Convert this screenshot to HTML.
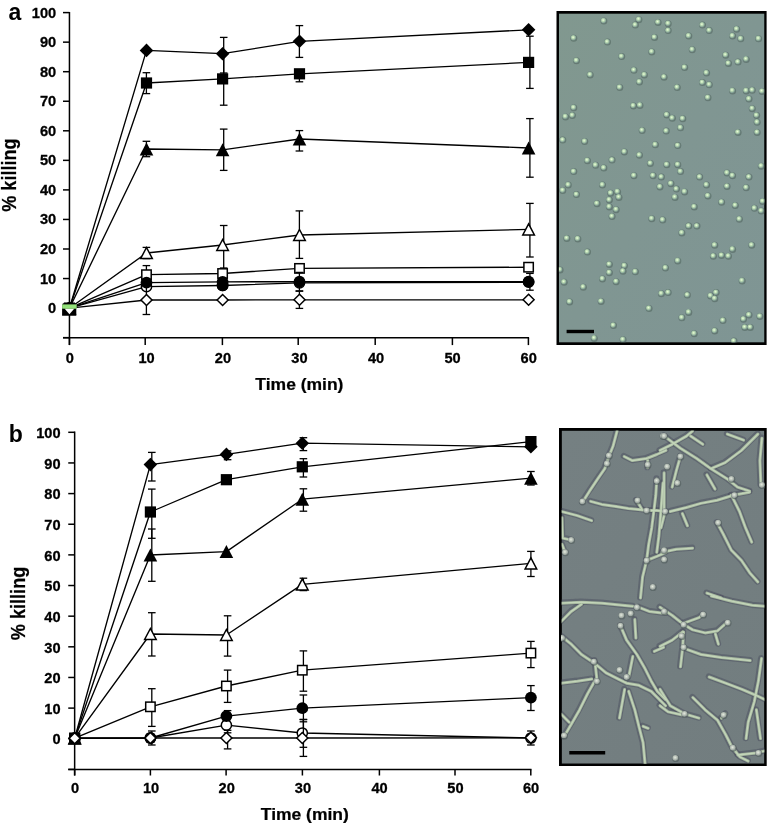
<!DOCTYPE html>
<html><head><meta charset="utf-8"><title>Figure</title>
<style>
html,body{margin:0;padding:0;background:#fff;}
body{width:767px;height:824px;overflow:hidden;}
svg{display:block;}
text{opacity:0.999;}
text{font-family:"Liberation Sans",sans-serif;font-weight:bold;}
</style></head>
<body>
<svg width="767" height="824" viewBox="0 0 767 824">
<rect width="767" height="824" fill="#fff"/>
<defs><radialGradient id="cell" cx="0.45" cy="0.42" r="0.6"><stop offset="0" stop-color="#eefbe2"/><stop offset="0.35" stop-color="#c0e0b4"/><stop offset="0.75" stop-color="#8aa89a"/><stop offset="1" stop-color="#7a968e" stop-opacity="0.5"/></radialGradient><radialGradient id="cellb" cx="0.45" cy="0.42" r="0.6"><stop offset="0" stop-color="#e4eadf"/><stop offset="0.4" stop-color="#c2cac0"/><stop offset="0.8" stop-color="#98a29d"/><stop offset="1" stop-color="#7a8582" stop-opacity="0.4"/></radialGradient><linearGradient id="bga" x1="0" y1="0" x2="1" y2="1"><stop offset="0" stop-color="#81988f"/><stop offset="0.5" stop-color="#809692"/><stop offset="1" stop-color="#7f9594"/></linearGradient><linearGradient id="bgb" x1="0" y1="0" x2="1" y2="1"><stop offset="0" stop-color="#758082"/><stop offset="1" stop-color="#727d7f"/></linearGradient><filter id="bl" x="-5%" y="-5%" width="110%" height="110%"><feGaussianBlur stdDeviation="0.55"/></filter><clipPath id="ca"><rect x="558.9" y="13.4" width="205.6" height="329.2"/></clipPath><clipPath id="cb"><rect x="561.6" y="430.6" width="202.8" height="333.1"/></clipPath></defs><rect x="556.5" y="11.0" width="210.1" height="334" fill="#000"/><g clip-path="url(#ca)"><rect x="558.9" y="13.4" width="205.6" height="329.2" fill="url(#bga)"/><g filter="url(#bl)"><circle cx="603.9" cy="21" r="3.5" fill="#52665f" opacity="0.6"/><circle cx="603.5" cy="20.6" r="2.8" fill="url(#cell)"/><circle cx="638.9" cy="19.7" r="3.5" fill="#52665f" opacity="0.6"/><circle cx="638.6" cy="19.2" r="2.8" fill="url(#cell)"/><circle cx="635.4" cy="25.1" r="3.5" fill="#52665f" opacity="0.6"/><circle cx="635" cy="24.7" r="2.8" fill="url(#cell)"/><circle cx="658.1" cy="22.4" r="3.5" fill="#52665f" opacity="0.6"/><circle cx="657.8" cy="22" r="2.8" fill="url(#cell)"/><circle cx="668.2" cy="23.8" r="3.5" fill="#52665f" opacity="0.6"/><circle cx="667.9" cy="23.3" r="2.8" fill="url(#cell)"/><circle cx="668.2" cy="30.6" r="3.5" fill="#52665f" opacity="0.6"/><circle cx="667.9" cy="30.2" r="2.8" fill="url(#cell)"/><circle cx="702.5" cy="25.1" r="3.5" fill="#52665f" opacity="0.6"/><circle cx="702.1" cy="24.7" r="2.8" fill="url(#cell)"/><circle cx="709.3" cy="30.6" r="3.5" fill="#52665f" opacity="0.6"/><circle cx="709" cy="30.2" r="2.8" fill="url(#cell)"/><circle cx="736.7" cy="29.2" r="3.5" fill="#52665f" opacity="0.6"/><circle cx="736.4" cy="28.8" r="2.8" fill="url(#cell)"/><circle cx="732.6" cy="36.1" r="3.5" fill="#52665f" opacity="0.6"/><circle cx="732.2" cy="35.6" r="2.8" fill="url(#cell)"/><circle cx="740.8" cy="38.8" r="3.5" fill="#52665f" opacity="0.6"/><circle cx="740.5" cy="38.4" r="2.8" fill="url(#cell)"/><circle cx="758.6" cy="38.8" r="3.5" fill="#52665f" opacity="0.6"/><circle cx="758.3" cy="38.4" r="2.8" fill="url(#cell)"/><circle cx="573.8" cy="38.3" r="3.5" fill="#52665f" opacity="0.6"/><circle cx="573.4" cy="37.8" r="2.8" fill="url(#cell)"/><circle cx="607.5" cy="42.1" r="3.5" fill="#52665f" opacity="0.6"/><circle cx="607.1" cy="41.7" r="2.8" fill="url(#cell)"/><circle cx="654.6" cy="37.5" r="3.5" fill="#52665f" opacity="0.6"/><circle cx="654.2" cy="37" r="2.8" fill="url(#cell)"/><circle cx="688.8" cy="36.1" r="3.5" fill="#52665f" opacity="0.6"/><circle cx="688.4" cy="35.6" r="2.8" fill="url(#cell)"/><circle cx="651.8" cy="52" r="3.5" fill="#52665f" opacity="0.6"/><circle cx="651.5" cy="51.5" r="2.8" fill="url(#cell)"/><circle cx="692.3" cy="49.8" r="3.5" fill="#52665f" opacity="0.6"/><circle cx="692" cy="49.3" r="2.8" fill="url(#cell)"/><circle cx="621.7" cy="56.6" r="3.5" fill="#52665f" opacity="0.6"/><circle cx="621.3" cy="56.2" r="2.8" fill="url(#cell)"/><circle cx="725.8" cy="55.3" r="3.5" fill="#52665f" opacity="0.6"/><circle cx="725.4" cy="54.8" r="2.8" fill="url(#cell)"/><circle cx="728.5" cy="63.5" r="3.5" fill="#52665f" opacity="0.6"/><circle cx="728.1" cy="63" r="2.8" fill="url(#cell)"/><circle cx="738.1" cy="62.1" r="3.5" fill="#52665f" opacity="0.6"/><circle cx="737.7" cy="61.7" r="2.8" fill="url(#cell)"/><circle cx="746.3" cy="59.4" r="3.5" fill="#52665f" opacity="0.6"/><circle cx="745.9" cy="58.9" r="2.8" fill="url(#cell)"/><circle cx="576.5" cy="60.7" r="3.5" fill="#52665f" opacity="0.6"/><circle cx="576.2" cy="60.3" r="2.8" fill="url(#cell)"/><circle cx="590.2" cy="75" r="3.5" fill="#52665f" opacity="0.6"/><circle cx="589.9" cy="74.5" r="2.8" fill="url(#cell)"/><circle cx="634" cy="70.3" r="3.5" fill="#52665f" opacity="0.6"/><circle cx="633.7" cy="69.9" r="2.8" fill="url(#cell)"/><circle cx="644.4" cy="75" r="3.5" fill="#52665f" opacity="0.6"/><circle cx="644.1" cy="74.5" r="2.8" fill="url(#cell)"/><circle cx="639.5" cy="82.1" r="3.5" fill="#52665f" opacity="0.6"/><circle cx="639.1" cy="81.6" r="2.8" fill="url(#cell)"/><circle cx="664.1" cy="77.2" r="3.5" fill="#52665f" opacity="0.6"/><circle cx="663.8" cy="76.7" r="2.8" fill="url(#cell)"/><circle cx="684.7" cy="67.6" r="3.5" fill="#52665f" opacity="0.6"/><circle cx="684.3" cy="67.1" r="2.8" fill="url(#cell)"/><circle cx="706.6" cy="73.1" r="3.5" fill="#52665f" opacity="0.6"/><circle cx="706.2" cy="72.6" r="2.8" fill="url(#cell)"/><circle cx="702.5" cy="82.6" r="3.5" fill="#52665f" opacity="0.6"/><circle cx="702.1" cy="82.2" r="2.8" fill="url(#cell)"/><circle cx="709.3" cy="84.8" r="3.5" fill="#52665f" opacity="0.6"/><circle cx="709" cy="84.4" r="2.8" fill="url(#cell)"/><circle cx="619.8" cy="87.6" r="3.5" fill="#52665f" opacity="0.6"/><circle cx="619.4" cy="87.1" r="2.8" fill="url(#cell)"/><circle cx="677.3" cy="87.6" r="3.5" fill="#52665f" opacity="0.6"/><circle cx="676.9" cy="87.1" r="2.8" fill="url(#cell)"/><circle cx="732.6" cy="90.9" r="3.5" fill="#52665f" opacity="0.6"/><circle cx="732.2" cy="90.4" r="2.8" fill="url(#cell)"/><circle cx="746.3" cy="90.9" r="3.5" fill="#52665f" opacity="0.6"/><circle cx="745.9" cy="90.4" r="2.8" fill="url(#cell)"/><circle cx="752.3" cy="90.3" r="3.5" fill="#52665f" opacity="0.6"/><circle cx="752" cy="89.9" r="2.8" fill="url(#cell)"/><circle cx="762.2" cy="91.4" r="3.5" fill="#52665f" opacity="0.6"/><circle cx="761.8" cy="91" r="2.8" fill="url(#cell)"/><circle cx="708" cy="97.7" r="3.5" fill="#52665f" opacity="0.6"/><circle cx="707.6" cy="97.3" r="2.8" fill="url(#cell)"/><circle cx="749" cy="99.1" r="3.5" fill="#52665f" opacity="0.6"/><circle cx="748.7" cy="98.6" r="2.8" fill="url(#cell)"/><circle cx="573.8" cy="107.8" r="3.5" fill="#52665f" opacity="0.6"/><circle cx="573.4" cy="107.4" r="2.8" fill="url(#cell)"/><circle cx="565.6" cy="116.9" r="3.5" fill="#52665f" opacity="0.6"/><circle cx="565.2" cy="116.4" r="2.8" fill="url(#cell)"/><circle cx="572.4" cy="115.5" r="3.5" fill="#52665f" opacity="0.6"/><circle cx="572.1" cy="115.1" r="2.8" fill="url(#cell)"/><circle cx="633.5" cy="105.9" r="3.5" fill="#52665f" opacity="0.6"/><circle cx="633.1" cy="105.5" r="2.8" fill="url(#cell)"/><circle cx="640" cy="105.4" r="3.5" fill="#52665f" opacity="0.6"/><circle cx="639.7" cy="104.9" r="2.8" fill="url(#cell)"/><circle cx="666.9" cy="115" r="3.5" fill="#52665f" opacity="0.6"/><circle cx="666.5" cy="114.5" r="2.8" fill="url(#cell)"/><circle cx="672.4" cy="118.2" r="3.5" fill="#52665f" opacity="0.6"/><circle cx="672" cy="117.8" r="2.8" fill="url(#cell)"/><circle cx="682.8" cy="118.8" r="3.5" fill="#52665f" opacity="0.6"/><circle cx="682.4" cy="118.3" r="2.8" fill="url(#cell)"/><circle cx="680.6" cy="127.8" r="3.5" fill="#52665f" opacity="0.6"/><circle cx="680.2" cy="127.4" r="2.8" fill="url(#cell)"/><circle cx="752.3" cy="108.7" r="3.5" fill="#52665f" opacity="0.6"/><circle cx="752" cy="108.2" r="2.8" fill="url(#cell)"/><circle cx="756.7" cy="115.5" r="3.5" fill="#52665f" opacity="0.6"/><circle cx="756.3" cy="115.1" r="2.8" fill="url(#cell)"/><circle cx="757.2" cy="122.3" r="3.5" fill="#52665f" opacity="0.6"/><circle cx="756.9" cy="121.9" r="2.8" fill="url(#cell)"/><circle cx="642.2" cy="130.6" r="3.5" fill="#52665f" opacity="0.6"/><circle cx="641.9" cy="130.1" r="2.8" fill="url(#cell)"/><circle cx="666.3" cy="131.1" r="3.5" fill="#52665f" opacity="0.6"/><circle cx="666" cy="130.7" r="2.8" fill="url(#cell)"/><circle cx="738.1" cy="132.5" r="3.5" fill="#52665f" opacity="0.6"/><circle cx="737.7" cy="132" r="2.8" fill="url(#cell)"/><circle cx="757.2" cy="132.5" r="3.5" fill="#52665f" opacity="0.6"/><circle cx="756.9" cy="132" r="2.8" fill="url(#cell)"/><circle cx="562.8" cy="140.1" r="3.5" fill="#52665f" opacity="0.6"/><circle cx="562.5" cy="139.7" r="2.8" fill="url(#cell)"/><circle cx="584.7" cy="141.5" r="3.5" fill="#52665f" opacity="0.6"/><circle cx="584.4" cy="141.1" r="2.8" fill="url(#cell)"/><circle cx="655.4" cy="144.8" r="3.5" fill="#52665f" opacity="0.6"/><circle cx="655" cy="144.4" r="2.8" fill="url(#cell)"/><circle cx="677.8" cy="145.6" r="3.5" fill="#52665f" opacity="0.6"/><circle cx="677.5" cy="145.2" r="2.8" fill="url(#cell)"/><circle cx="624.4" cy="151.9" r="3.5" fill="#52665f" opacity="0.6"/><circle cx="624.1" cy="151.5" r="2.8" fill="url(#cell)"/><circle cx="639.5" cy="155.2" r="3.5" fill="#52665f" opacity="0.6"/><circle cx="639.1" cy="154.8" r="2.8" fill="url(#cell)"/><circle cx="587.5" cy="160.7" r="3.5" fill="#52665f" opacity="0.6"/><circle cx="587.1" cy="160.2" r="2.8" fill="url(#cell)"/><circle cx="595.7" cy="165.3" r="3.5" fill="#52665f" opacity="0.6"/><circle cx="595.3" cy="164.9" r="2.8" fill="url(#cell)"/><circle cx="603.9" cy="168.1" r="3.5" fill="#52665f" opacity="0.6"/><circle cx="603.5" cy="167.6" r="2.8" fill="url(#cell)"/><circle cx="612.1" cy="160.1" r="3.5" fill="#52665f" opacity="0.6"/><circle cx="611.8" cy="159.7" r="2.8" fill="url(#cell)"/><circle cx="650.4" cy="163.4" r="3.5" fill="#52665f" opacity="0.6"/><circle cx="650.1" cy="163" r="2.8" fill="url(#cell)"/><circle cx="666.9" cy="164.8" r="3.5" fill="#52665f" opacity="0.6"/><circle cx="666.5" cy="164.3" r="2.8" fill="url(#cell)"/><circle cx="677.8" cy="164.8" r="3.5" fill="#52665f" opacity="0.6"/><circle cx="677.5" cy="164.3" r="2.8" fill="url(#cell)"/><circle cx="573.8" cy="171.6" r="3.5" fill="#52665f" opacity="0.6"/><circle cx="573.4" cy="171.2" r="2.8" fill="url(#cell)"/><circle cx="634" cy="175.7" r="3.5" fill="#52665f" opacity="0.6"/><circle cx="633.7" cy="175.3" r="2.8" fill="url(#cell)"/><circle cx="653.2" cy="175.7" r="3.5" fill="#52665f" opacity="0.6"/><circle cx="652.8" cy="175.3" r="2.8" fill="url(#cell)"/><circle cx="661.4" cy="177.1" r="3.5" fill="#52665f" opacity="0.6"/><circle cx="661.1" cy="176.7" r="2.8" fill="url(#cell)"/><circle cx="727.1" cy="173" r="3.5" fill="#52665f" opacity="0.6"/><circle cx="726.8" cy="172.6" r="2.8" fill="url(#cell)"/><circle cx="732.6" cy="175.7" r="3.5" fill="#52665f" opacity="0.6"/><circle cx="732.2" cy="175.3" r="2.8" fill="url(#cell)"/><circle cx="749" cy="177.1" r="3.5" fill="#52665f" opacity="0.6"/><circle cx="748.7" cy="176.7" r="2.8" fill="url(#cell)"/><circle cx="761.3" cy="166.2" r="3.5" fill="#52665f" opacity="0.6"/><circle cx="761" cy="165.7" r="2.8" fill="url(#cell)"/><circle cx="680.6" cy="171.6" r="3.5" fill="#52665f" opacity="0.6"/><circle cx="680.2" cy="171.2" r="2.8" fill="url(#cell)"/><circle cx="699.7" cy="177.1" r="3.5" fill="#52665f" opacity="0.6"/><circle cx="699.4" cy="176.7" r="2.8" fill="url(#cell)"/><circle cx="568.3" cy="185" r="3.5" fill="#52665f" opacity="0.6"/><circle cx="568" cy="184.6" r="2.8" fill="url(#cell)"/><circle cx="562.8" cy="190.5" r="3.5" fill="#52665f" opacity="0.6"/><circle cx="562.5" cy="190.1" r="2.8" fill="url(#cell)"/><circle cx="602.5" cy="185" r="3.5" fill="#52665f" opacity="0.6"/><circle cx="602.2" cy="184.6" r="2.8" fill="url(#cell)"/><circle cx="576.5" cy="194.6" r="3.5" fill="#52665f" opacity="0.6"/><circle cx="576.2" cy="194.2" r="2.8" fill="url(#cell)"/><circle cx="610.7" cy="193.2" r="3.5" fill="#52665f" opacity="0.6"/><circle cx="610.4" cy="192.8" r="2.8" fill="url(#cell)"/><circle cx="617.6" cy="191.9" r="3.5" fill="#52665f" opacity="0.6"/><circle cx="617.2" cy="191.4" r="2.8" fill="url(#cell)"/><circle cx="609.4" cy="200.1" r="3.5" fill="#52665f" opacity="0.6"/><circle cx="609" cy="199.6" r="2.8" fill="url(#cell)"/><circle cx="619" cy="197.4" r="3.5" fill="#52665f" opacity="0.6"/><circle cx="618.6" cy="196.9" r="2.8" fill="url(#cell)"/><circle cx="609.4" cy="206.9" r="3.5" fill="#52665f" opacity="0.6"/><circle cx="609" cy="206.5" r="2.8" fill="url(#cell)"/><circle cx="616.2" cy="209.7" r="3.5" fill="#52665f" opacity="0.6"/><circle cx="615.9" cy="209.2" r="2.8" fill="url(#cell)"/><circle cx="612.1" cy="216.5" r="3.5" fill="#52665f" opacity="0.6"/><circle cx="611.8" cy="216.1" r="2.8" fill="url(#cell)"/><circle cx="597.1" cy="203.7" r="3.5" fill="#52665f" opacity="0.6"/><circle cx="596.7" cy="203.2" r="2.8" fill="url(#cell)"/><circle cx="660" cy="187" r="3.5" fill="#52665f" opacity="0.6"/><circle cx="659.7" cy="186.5" r="2.8" fill="url(#cell)"/><circle cx="671" cy="183.7" r="3.5" fill="#52665f" opacity="0.6"/><circle cx="670.6" cy="183.2" r="2.8" fill="url(#cell)"/><circle cx="676.5" cy="189.1" r="3.5" fill="#52665f" opacity="0.6"/><circle cx="676.1" cy="188.7" r="2.8" fill="url(#cell)"/><circle cx="684.7" cy="191.9" r="3.5" fill="#52665f" opacity="0.6"/><circle cx="684.3" cy="191.4" r="2.8" fill="url(#cell)"/><circle cx="675.1" cy="197.4" r="3.5" fill="#52665f" opacity="0.6"/><circle cx="674.7" cy="196.9" r="2.8" fill="url(#cell)"/><circle cx="651.8" cy="218.7" r="3.5" fill="#52665f" opacity="0.6"/><circle cx="651.5" cy="218.3" r="2.8" fill="url(#cell)"/><circle cx="662.8" cy="220.1" r="3.5" fill="#52665f" opacity="0.6"/><circle cx="662.4" cy="219.6" r="2.8" fill="url(#cell)"/><circle cx="706.6" cy="185" r="3.5" fill="#52665f" opacity="0.6"/><circle cx="706.2" cy="184.6" r="2.8" fill="url(#cell)"/><circle cx="727.1" cy="186.4" r="3.5" fill="#52665f" opacity="0.6"/><circle cx="726.8" cy="186" r="2.8" fill="url(#cell)"/><circle cx="746.3" cy="187.8" r="3.5" fill="#52665f" opacity="0.6"/><circle cx="745.9" cy="187.3" r="2.8" fill="url(#cell)"/><circle cx="708" cy="196" r="3.5" fill="#52665f" opacity="0.6"/><circle cx="707.6" cy="195.5" r="2.8" fill="url(#cell)"/><circle cx="721.6" cy="202.3" r="3.5" fill="#52665f" opacity="0.6"/><circle cx="721.3" cy="201.8" r="2.8" fill="url(#cell)"/><circle cx="735.3" cy="205.6" r="3.5" fill="#52665f" opacity="0.6"/><circle cx="735" cy="205.1" r="2.8" fill="url(#cell)"/><circle cx="754.5" cy="208.3" r="3.5" fill="#52665f" opacity="0.6"/><circle cx="754.2" cy="207.9" r="2.8" fill="url(#cell)"/><circle cx="761.3" cy="211" r="3.5" fill="#52665f" opacity="0.6"/><circle cx="761" cy="210.6" r="2.8" fill="url(#cell)"/><circle cx="762.7" cy="201.5" r="3.5" fill="#52665f" opacity="0.6"/><circle cx="762.4" cy="201" r="2.8" fill="url(#cell)"/><circle cx="694.3" cy="206.9" r="3.5" fill="#52665f" opacity="0.6"/><circle cx="693.9" cy="206.5" r="2.8" fill="url(#cell)"/><circle cx="739.4" cy="219.3" r="3.5" fill="#52665f" opacity="0.6"/><circle cx="739.1" cy="218.8" r="2.8" fill="url(#cell)"/><circle cx="688.8" cy="226.1" r="3.5" fill="#52665f" opacity="0.6"/><circle cx="688.4" cy="225.7" r="2.8" fill="url(#cell)"/><circle cx="697" cy="226.1" r="3.5" fill="#52665f" opacity="0.6"/><circle cx="696.6" cy="225.7" r="2.8" fill="url(#cell)"/><circle cx="681.9" cy="233" r="3.5" fill="#52665f" opacity="0.6"/><circle cx="681.6" cy="232.5" r="2.8" fill="url(#cell)"/><circle cx="566.9" cy="238.4" r="3.5" fill="#52665f" opacity="0.6"/><circle cx="566.6" cy="238" r="2.8" fill="url(#cell)"/><circle cx="577.9" cy="239" r="3.5" fill="#52665f" opacity="0.6"/><circle cx="577.5" cy="238.5" r="2.8" fill="url(#cell)"/><circle cx="587.5" cy="252.1" r="3.5" fill="#52665f" opacity="0.6"/><circle cx="587.1" cy="251.7" r="2.8" fill="url(#cell)"/><circle cx="714.8" cy="245.3" r="3.5" fill="#52665f" opacity="0.6"/><circle cx="714.4" cy="244.8" r="2.8" fill="url(#cell)"/><circle cx="732.6" cy="249.4" r="3.5" fill="#52665f" opacity="0.6"/><circle cx="732.2" cy="248.9" r="2.8" fill="url(#cell)"/><circle cx="713.4" cy="256.2" r="3.5" fill="#52665f" opacity="0.6"/><circle cx="713.1" cy="255.8" r="2.8" fill="url(#cell)"/><circle cx="721.6" cy="255.4" r="3.5" fill="#52665f" opacity="0.6"/><circle cx="721.3" cy="255" r="2.8" fill="url(#cell)"/><circle cx="728.5" cy="256.2" r="3.5" fill="#52665f" opacity="0.6"/><circle cx="728.1" cy="255.8" r="2.8" fill="url(#cell)"/><circle cx="751.8" cy="245.3" r="3.5" fill="#52665f" opacity="0.6"/><circle cx="751.4" cy="244.8" r="2.8" fill="url(#cell)"/><circle cx="677.8" cy="260.9" r="3.5" fill="#52665f" opacity="0.6"/><circle cx="677.5" cy="260.4" r="2.8" fill="url(#cell)"/><circle cx="609.4" cy="264.4" r="3.5" fill="#52665f" opacity="0.6"/><circle cx="609" cy="264" r="2.8" fill="url(#cell)"/><circle cx="624.4" cy="265.8" r="3.5" fill="#52665f" opacity="0.6"/><circle cx="624.1" cy="265.4" r="2.8" fill="url(#cell)"/><circle cx="623.1" cy="271.3" r="3.5" fill="#52665f" opacity="0.6"/><circle cx="622.7" cy="270.8" r="2.8" fill="url(#cell)"/><circle cx="635.4" cy="271.8" r="3.5" fill="#52665f" opacity="0.6"/><circle cx="635" cy="271.4" r="2.8" fill="url(#cell)"/><circle cx="609.4" cy="272.7" r="3.5" fill="#52665f" opacity="0.6"/><circle cx="609" cy="272.2" r="2.8" fill="url(#cell)"/><circle cx="602.5" cy="279" r="3.5" fill="#52665f" opacity="0.6"/><circle cx="602.2" cy="278.5" r="2.8" fill="url(#cell)"/><circle cx="616.2" cy="281.7" r="3.5" fill="#52665f" opacity="0.6"/><circle cx="615.9" cy="281.2" r="2.8" fill="url(#cell)"/><circle cx="560.1" cy="269.9" r="3.5" fill="#52665f" opacity="0.6"/><circle cx="559.7" cy="269.5" r="2.8" fill="url(#cell)"/><circle cx="665.5" cy="268" r="3.5" fill="#52665f" opacity="0.6"/><circle cx="665.2" cy="267.6" r="2.8" fill="url(#cell)"/><circle cx="564.2" cy="282.2" r="3.5" fill="#52665f" opacity="0.6"/><circle cx="563.8" cy="281.8" r="2.8" fill="url(#cell)"/><circle cx="583.4" cy="287.2" r="3.5" fill="#52665f" opacity="0.6"/><circle cx="583" cy="286.7" r="2.8" fill="url(#cell)"/><circle cx="742.2" cy="280.9" r="3.5" fill="#52665f" opacity="0.6"/><circle cx="741.8" cy="280.4" r="2.8" fill="url(#cell)"/><circle cx="661.4" cy="293.7" r="3.5" fill="#52665f" opacity="0.6"/><circle cx="661.1" cy="293.3" r="2.8" fill="url(#cell)"/><circle cx="668.2" cy="292.6" r="3.5" fill="#52665f" opacity="0.6"/><circle cx="667.9" cy="292.2" r="2.8" fill="url(#cell)"/><circle cx="687.4" cy="295.1" r="3.5" fill="#52665f" opacity="0.6"/><circle cx="687.1" cy="294.7" r="2.8" fill="url(#cell)"/><circle cx="710.7" cy="295.9" r="3.5" fill="#52665f" opacity="0.6"/><circle cx="710.3" cy="295.5" r="2.8" fill="url(#cell)"/><circle cx="716.2" cy="292.6" r="3.5" fill="#52665f" opacity="0.6"/><circle cx="715.8" cy="292.2" r="2.8" fill="url(#cell)"/><circle cx="714.8" cy="298.7" r="3.5" fill="#52665f" opacity="0.6"/><circle cx="714.4" cy="298.2" r="2.8" fill="url(#cell)"/><circle cx="569.7" cy="302" r="3.5" fill="#52665f" opacity="0.6"/><circle cx="569.3" cy="301.5" r="2.8" fill="url(#cell)"/><circle cx="601.2" cy="301.4" r="3.5" fill="#52665f" opacity="0.6"/><circle cx="600.8" cy="301" r="2.8" fill="url(#cell)"/><circle cx="649.1" cy="308.5" r="3.5" fill="#52665f" opacity="0.6"/><circle cx="648.7" cy="308.1" r="2.8" fill="url(#cell)"/><circle cx="681.9" cy="317.8" r="3.5" fill="#52665f" opacity="0.6"/><circle cx="681.6" cy="317.4" r="2.8" fill="url(#cell)"/><circle cx="688.8" cy="312.4" r="3.5" fill="#52665f" opacity="0.6"/><circle cx="688.4" cy="311.9" r="2.8" fill="url(#cell)"/><circle cx="723" cy="320.6" r="3.5" fill="#52665f" opacity="0.6"/><circle cx="722.7" cy="320.1" r="2.8" fill="url(#cell)"/><circle cx="743.5" cy="319.2" r="3.5" fill="#52665f" opacity="0.6"/><circle cx="743.2" cy="318.8" r="2.8" fill="url(#cell)"/><circle cx="749" cy="315.1" r="3.5" fill="#52665f" opacity="0.6"/><circle cx="748.7" cy="314.6" r="2.8" fill="url(#cell)"/><circle cx="760" cy="316.5" r="3.5" fill="#52665f" opacity="0.6"/><circle cx="759.6" cy="316" r="2.8" fill="url(#cell)"/><circle cx="744.9" cy="327.4" r="3.5" fill="#52665f" opacity="0.6"/><circle cx="744.6" cy="327" r="2.8" fill="url(#cell)"/><circle cx="750.4" cy="327.4" r="3.5" fill="#52665f" opacity="0.6"/><circle cx="750" cy="327" r="2.8" fill="url(#cell)"/><circle cx="613.5" cy="325.5" r="3.5" fill="#52665f" opacity="0.6"/><circle cx="613.1" cy="325.1" r="2.8" fill="url(#cell)"/><circle cx="714.8" cy="331" r="3.5" fill="#52665f" opacity="0.6"/><circle cx="714.4" cy="330.5" r="2.8" fill="url(#cell)"/><circle cx="694.3" cy="333.7" r="3.5" fill="#52665f" opacity="0.6"/><circle cx="693.9" cy="333.3" r="2.8" fill="url(#cell)"/><circle cx="594.3" cy="338.4" r="3.5" fill="#52665f" opacity="0.6"/><circle cx="594" cy="337.9" r="2.8" fill="url(#cell)"/><circle cx="623.1" cy="339.7" r="3.5" fill="#52665f" opacity="0.6"/><circle cx="622.7" cy="339.3" r="2.8" fill="url(#cell)"/><circle cx="734" cy="341.1" r="3.5" fill="#52665f" opacity="0.6"/><circle cx="733.6" cy="340.7" r="2.8" fill="url(#cell)"/></g><rect x="566.6" y="329.8" width="27.4" height="3.4" fill="#000"/></g><rect x="559.0" y="428.0" width="207.7" height="338" fill="#000"/><g clip-path="url(#cb)"><rect x="561.6" y="430.6" width="202.8" height="333.1" fill="url(#bgb)"/><g filter="url(#bl)" fill="none" stroke-linecap="round" stroke-linejoin="round"><g transform="translate(-0.4 -0.5)"><path d="M617.1 431L613 446.3L608.9 456.5L604.8 468.7L597.7 478.9L589.5 491.2L582.4 502.4" stroke="#48495a" stroke-width="6.2" stroke-opacity="0.45"/><path d="M590.6 501.4L601.8 504.4L616.1 506.5L628.3 508.5L638.5 509.5L646.6 510.5L656.8 510.5L666 511.6" stroke="#48495a" stroke-width="6.2" stroke-opacity="0.45"/><path d="M624.2 456.5L632.4 460.6L646.6 458.5L656.8 454.5L666 450.4" stroke="#48495a" stroke-width="6.2" stroke-opacity="0.45"/><path d="M647.7 460.6L647.7 467.7" stroke="#48495a" stroke-width="6.2" stroke-opacity="0.45"/><path d="M562 511.6L577.3 515.6L591.6 520.7" stroke="#48495a" stroke-width="6.2" stroke-opacity="0.45"/><path d="M636.4 500.4L641.5 508.5" stroke="#48495a" stroke-width="6.2" stroke-opacity="0.45"/><path d="M656.8 478.9L655.8 495.3L653.8 511.6L651.7 527.9L648.7 544.2L646.6 560.5L642.6 576.8L640.5 598" stroke="#48495a" stroke-width="6.2" stroke-opacity="0.45"/><path d="M663 483L660.9 511.6L658.9 536L656.8 552.3" stroke="#48495a" stroke-width="6.2" stroke-opacity="0.45"/><path d="M646.6 560.5L656.8 556.4L666 552.3" stroke="#48495a" stroke-width="6.2" stroke-opacity="0.45"/><path d="M562 517.7L562.6 538.1L571.2 540.1" stroke="#48495a" stroke-width="6.2" stroke-opacity="0.45"/><path d="M562 544.2L565.1 552.3" stroke="#48495a" stroke-width="6.2" stroke-opacity="0.45"/><path d="M660 450.4L672.2 444.3L686.5 436.1L692.6 431" stroke="#48495a" stroke-width="6.2" stroke-opacity="0.45"/><path d="M664.1 436.1L680.4 448.3L696.7 458.5L711 468.7L727.3 478.9L737.5 487.1L749.7 491.2" stroke="#48495a" stroke-width="6.2" stroke-opacity="0.45"/><path d="M690.6 436.1L702.8 444.3" stroke="#48495a" stroke-width="6.2" stroke-opacity="0.45"/><path d="M727.3 434.1L743.6 440.2" stroke="#48495a" stroke-width="6.2" stroke-opacity="0.45"/><path d="M757.9 434.1L741.5 450.4L725.2 462.6L711 468.7" stroke="#48495a" stroke-width="6.2" stroke-opacity="0.45"/><path d="M761.9 438.2L759.9 460.6L760.9 485" stroke="#48495a" stroke-width="6.2" stroke-opacity="0.45"/><path d="M680.4 456.5L676.3 470.8L672.2 487.1" stroke="#48495a" stroke-width="6.2" stroke-opacity="0.45"/><path d="M664.1 472.8L664.1 491.2L664.1 515.6L661 527.9" stroke="#48495a" stroke-width="6.2" stroke-opacity="0.45"/><path d="M670.2 511.5L686.5 507.5L700.8 503.4L717.1 500.3L733.4 495.2L749.7 492.2" stroke="#48495a" stroke-width="6.2" stroke-opacity="0.45"/><path d="M682.4 513.6L687.5 525.8" stroke="#48495a" stroke-width="6.2" stroke-opacity="0.45"/><path d="M731.4 495.2L739.5 511.5L745.6 527.9L751.7 542.1" stroke="#48495a" stroke-width="6.2" stroke-opacity="0.45"/><path d="M706.9 474.9L715 489.1" stroke="#48495a" stroke-width="6.2" stroke-opacity="0.45"/><path d="M717.1 522.8L723.2 534L731.4 550.3L741.5 560.5L749.7 572.7L757.9 581.9" stroke="#48495a" stroke-width="6.2" stroke-opacity="0.45"/><path d="M662 552.3L676.3 549.3L692.6 548.2" stroke="#48495a" stroke-width="6.2" stroke-opacity="0.45"/><path d="M706.9 593.1L721.2 598" stroke="#48495a" stroke-width="6.2" stroke-opacity="0.45"/><path d="M561 603.2L581.5 602.2L602 603.2L622.5 605.3L632.8 606.3" stroke="#48495a" stroke-width="6.2" stroke-opacity="0.45"/><path d="M561 621.7L571.3 611.4L581.5 604.2" stroke="#48495a" stroke-width="6.2" stroke-opacity="0.45"/><path d="M620.5 625.8L626.6 640.1L636.9 654.5L645.1 668.8L651.3 681.2L657.4 691.4L665.6 699.6" stroke="#48495a" stroke-width="6.2" stroke-opacity="0.45"/><path d="M561 636L571.3 644.2L581.5 654.5L593.8 662.7L606.1 672.9L618.4 679.1L626.6 683.2L638.9 685.3L651.3 691.4L665.6 705.8" stroke="#48495a" stroke-width="6.2" stroke-opacity="0.45"/><path d="M634.8 619.6L635.9 638.1" stroke="#48495a" stroke-width="6.2" stroke-opacity="0.45"/><path d="M561 683.2L577.4 681.2L591.8 679.1" stroke="#48495a" stroke-width="6.2" stroke-opacity="0.45"/><path d="M595.9 679.1L587.7 693.5L579.5 709.9L571.3 724.2L564.1 736.5" stroke="#48495a" stroke-width="6.2" stroke-opacity="0.45"/><path d="M594.8 660.6L596.9 679.1" stroke="#48495a" stroke-width="6.2" stroke-opacity="0.45"/><path d="M624.6 689.4L619.5 718.1" stroke="#48495a" stroke-width="6.2" stroke-opacity="0.45"/><path d="M628.7 691.4L634.8 709.9L638.9 726.3L643.1 742.7L645.1 764" stroke="#48495a" stroke-width="6.2" stroke-opacity="0.45"/><path d="M643.1 726.3L648.2 728.3" stroke="#48495a" stroke-width="6.2" stroke-opacity="0.45"/><path d="M632.8 656.5L628.7 677.1" stroke="#48495a" stroke-width="6.2" stroke-opacity="0.45"/><path d="M654.3 651.4L663.6 647.3" stroke="#48495a" stroke-width="6.2" stroke-opacity="0.45"/><path d="M561 714L569.2 722.2" stroke="#48495a" stroke-width="6.2" stroke-opacity="0.45"/><path d="M638.9 607.3L649.2 611.4L665.6 613.5" stroke="#48495a" stroke-width="6.2" stroke-opacity="0.45"/><path d="M711.3 596L731.8 601.2L752.3 605.3L765 606.3" stroke="#48495a" stroke-width="6.2" stroke-opacity="0.45"/><path d="M660 607.3L672.3 615.5L682.6 623.7L692.8 629.9L705.1 632.9L717.4 630.9L725.6 623.7" stroke="#48495a" stroke-width="6.2" stroke-opacity="0.45"/><path d="M682.6 623.7L699 617.6L703.1 614.5" stroke="#48495a" stroke-width="6.2" stroke-opacity="0.45"/><path d="M715.4 634L718.4 644.2" stroke="#48495a" stroke-width="6.2" stroke-opacity="0.45"/><path d="M660 646.3L672.3 640.1L682.6 631.9" stroke="#48495a" stroke-width="6.2" stroke-opacity="0.45"/><path d="M683.6 631.9L682.6 648.3L680.5 666.8" stroke="#48495a" stroke-width="6.2" stroke-opacity="0.45"/><path d="M686.7 649.3L701 654.5L721.5 657.6L750.2 660.6" stroke="#48495a" stroke-width="6.2" stroke-opacity="0.45"/><path d="M709.2 677L725.6 683.2L742 689.3L756.4 695.5L765 699.6" stroke="#48495a" stroke-width="6.2" stroke-opacity="0.45"/><path d="M761.5 658.6L758.4 681.1L754.3 701.6L748.2 722.2L746.1 738.6" stroke="#48495a" stroke-width="6.2" stroke-opacity="0.45"/><path d="M660 689.3L670.3 705.7L684.6 713.9L699 718.1" stroke="#48495a" stroke-width="6.2" stroke-opacity="0.45"/><path d="M660 705.7L668.2 711.9L682.6 715" stroke="#48495a" stroke-width="6.2" stroke-opacity="0.45"/><path d="M692.8 697.5L705.1 709.8L717.4 720.1L725.6 734.5L731.8 746.8L740 757L748.2 761.1" stroke="#48495a" stroke-width="6.2" stroke-opacity="0.45"/><path d="M721.5 718.1L725.6 713.9" stroke="#48495a" stroke-width="6.2" stroke-opacity="0.45"/><path d="M737.9 755L756.4 752.9L765 750.9" stroke="#48495a" stroke-width="6.2" stroke-opacity="0.45"/><path d="M756.4 709.8L760.5 738.6" stroke="#48495a" stroke-width="6.2" stroke-opacity="0.45"/></g><path d="M617.1 431L613 446.3L608.9 456.5L604.8 468.7L597.7 478.9L589.5 491.2L582.4 502.4" stroke="#a6b89f" stroke-width="3.0"/><path d="M590.6 501.4L601.8 504.4L616.1 506.5L628.3 508.5L638.5 509.5L646.6 510.5L656.8 510.5L666 511.6" stroke="#a6b89f" stroke-width="3.0"/><path d="M624.2 456.5L632.4 460.6L646.6 458.5L656.8 454.5L666 450.4" stroke="#a6b89f" stroke-width="3.0"/><path d="M647.7 460.6L647.7 467.7" stroke="#a6b89f" stroke-width="3.0"/><path d="M562 511.6L577.3 515.6L591.6 520.7" stroke="#a6b89f" stroke-width="3.0"/><path d="M636.4 500.4L641.5 508.5" stroke="#a6b89f" stroke-width="3.0"/><path d="M656.8 478.9L655.8 495.3L653.8 511.6L651.7 527.9L648.7 544.2L646.6 560.5L642.6 576.8L640.5 598" stroke="#a6b89f" stroke-width="3.0"/><path d="M663 483L660.9 511.6L658.9 536L656.8 552.3" stroke="#a6b89f" stroke-width="3.0"/><path d="M646.6 560.5L656.8 556.4L666 552.3" stroke="#a6b89f" stroke-width="3.0"/><path d="M562 517.7L562.6 538.1L571.2 540.1" stroke="#a6b89f" stroke-width="3.0"/><path d="M562 544.2L565.1 552.3" stroke="#a6b89f" stroke-width="3.0"/><path d="M660 450.4L672.2 444.3L686.5 436.1L692.6 431" stroke="#a6b89f" stroke-width="3.0"/><path d="M664.1 436.1L680.4 448.3L696.7 458.5L711 468.7L727.3 478.9L737.5 487.1L749.7 491.2" stroke="#a6b89f" stroke-width="3.0"/><path d="M690.6 436.1L702.8 444.3" stroke="#a6b89f" stroke-width="3.0"/><path d="M727.3 434.1L743.6 440.2" stroke="#a6b89f" stroke-width="3.0"/><path d="M757.9 434.1L741.5 450.4L725.2 462.6L711 468.7" stroke="#a6b89f" stroke-width="3.0"/><path d="M761.9 438.2L759.9 460.6L760.9 485" stroke="#a6b89f" stroke-width="3.0"/><path d="M680.4 456.5L676.3 470.8L672.2 487.1" stroke="#a6b89f" stroke-width="3.0"/><path d="M664.1 472.8L664.1 491.2L664.1 515.6L661 527.9" stroke="#a6b89f" stroke-width="3.0"/><path d="M670.2 511.5L686.5 507.5L700.8 503.4L717.1 500.3L733.4 495.2L749.7 492.2" stroke="#a6b89f" stroke-width="3.0"/><path d="M682.4 513.6L687.5 525.8" stroke="#a6b89f" stroke-width="3.0"/><path d="M731.4 495.2L739.5 511.5L745.6 527.9L751.7 542.1" stroke="#a6b89f" stroke-width="3.0"/><path d="M706.9 474.9L715 489.1" stroke="#a6b89f" stroke-width="3.0"/><path d="M717.1 522.8L723.2 534L731.4 550.3L741.5 560.5L749.7 572.7L757.9 581.9" stroke="#a6b89f" stroke-width="3.0"/><path d="M662 552.3L676.3 549.3L692.6 548.2" stroke="#a6b89f" stroke-width="3.0"/><path d="M706.9 593.1L721.2 598" stroke="#a6b89f" stroke-width="3.0"/><path d="M561 603.2L581.5 602.2L602 603.2L622.5 605.3L632.8 606.3" stroke="#a6b89f" stroke-width="3.0"/><path d="M561 621.7L571.3 611.4L581.5 604.2" stroke="#a6b89f" stroke-width="3.0"/><path d="M620.5 625.8L626.6 640.1L636.9 654.5L645.1 668.8L651.3 681.2L657.4 691.4L665.6 699.6" stroke="#a6b89f" stroke-width="3.0"/><path d="M561 636L571.3 644.2L581.5 654.5L593.8 662.7L606.1 672.9L618.4 679.1L626.6 683.2L638.9 685.3L651.3 691.4L665.6 705.8" stroke="#a6b89f" stroke-width="3.0"/><path d="M634.8 619.6L635.9 638.1" stroke="#a6b89f" stroke-width="3.0"/><path d="M561 683.2L577.4 681.2L591.8 679.1" stroke="#a6b89f" stroke-width="3.0"/><path d="M595.9 679.1L587.7 693.5L579.5 709.9L571.3 724.2L564.1 736.5" stroke="#a6b89f" stroke-width="3.0"/><path d="M594.8 660.6L596.9 679.1" stroke="#a6b89f" stroke-width="3.0"/><path d="M624.6 689.4L619.5 718.1" stroke="#a6b89f" stroke-width="3.0"/><path d="M628.7 691.4L634.8 709.9L638.9 726.3L643.1 742.7L645.1 764" stroke="#a6b89f" stroke-width="3.0"/><path d="M643.1 726.3L648.2 728.3" stroke="#a6b89f" stroke-width="3.0"/><path d="M632.8 656.5L628.7 677.1" stroke="#a6b89f" stroke-width="3.0"/><path d="M654.3 651.4L663.6 647.3" stroke="#a6b89f" stroke-width="3.0"/><path d="M561 714L569.2 722.2" stroke="#a6b89f" stroke-width="3.0"/><path d="M638.9 607.3L649.2 611.4L665.6 613.5" stroke="#a6b89f" stroke-width="3.0"/><path d="M711.3 596L731.8 601.2L752.3 605.3L765 606.3" stroke="#a6b89f" stroke-width="3.0"/><path d="M660 607.3L672.3 615.5L682.6 623.7L692.8 629.9L705.1 632.9L717.4 630.9L725.6 623.7" stroke="#a6b89f" stroke-width="3.0"/><path d="M682.6 623.7L699 617.6L703.1 614.5" stroke="#a6b89f" stroke-width="3.0"/><path d="M715.4 634L718.4 644.2" stroke="#a6b89f" stroke-width="3.0"/><path d="M660 646.3L672.3 640.1L682.6 631.9" stroke="#a6b89f" stroke-width="3.0"/><path d="M683.6 631.9L682.6 648.3L680.5 666.8" stroke="#a6b89f" stroke-width="3.0"/><path d="M686.7 649.3L701 654.5L721.5 657.6L750.2 660.6" stroke="#a6b89f" stroke-width="3.0"/><path d="M709.2 677L725.6 683.2L742 689.3L756.4 695.5L765 699.6" stroke="#a6b89f" stroke-width="3.0"/><path d="M761.5 658.6L758.4 681.1L754.3 701.6L748.2 722.2L746.1 738.6" stroke="#a6b89f" stroke-width="3.0"/><path d="M660 689.3L670.3 705.7L684.6 713.9L699 718.1" stroke="#a6b89f" stroke-width="3.0"/><path d="M660 705.7L668.2 711.9L682.6 715" stroke="#a6b89f" stroke-width="3.0"/><path d="M692.8 697.5L705.1 709.8L717.4 720.1L725.6 734.5L731.8 746.8L740 757L748.2 761.1" stroke="#a6b89f" stroke-width="3.0"/><path d="M721.5 718.1L725.6 713.9" stroke="#a6b89f" stroke-width="3.0"/><path d="M737.9 755L756.4 752.9L765 750.9" stroke="#a6b89f" stroke-width="3.0"/><path d="M756.4 709.8L760.5 738.6" stroke="#a6b89f" stroke-width="3.0"/><path d="M617.1 431L613 446.3L608.9 456.5L604.8 468.7L597.7 478.9L589.5 491.2L582.4 502.4" stroke="#c4d6ba" stroke-width="1.3"/><path d="M590.6 501.4L601.8 504.4L616.1 506.5L628.3 508.5L638.5 509.5L646.6 510.5L656.8 510.5L666 511.6" stroke="#c4d6ba" stroke-width="1.3"/><path d="M624.2 456.5L632.4 460.6L646.6 458.5L656.8 454.5L666 450.4" stroke="#c4d6ba" stroke-width="1.3"/><path d="M647.7 460.6L647.7 467.7" stroke="#c4d6ba" stroke-width="1.3"/><path d="M562 511.6L577.3 515.6L591.6 520.7" stroke="#c4d6ba" stroke-width="1.3"/><path d="M636.4 500.4L641.5 508.5" stroke="#c4d6ba" stroke-width="1.3"/><path d="M656.8 478.9L655.8 495.3L653.8 511.6L651.7 527.9L648.7 544.2L646.6 560.5L642.6 576.8L640.5 598" stroke="#c4d6ba" stroke-width="1.3"/><path d="M663 483L660.9 511.6L658.9 536L656.8 552.3" stroke="#c4d6ba" stroke-width="1.3"/><path d="M646.6 560.5L656.8 556.4L666 552.3" stroke="#c4d6ba" stroke-width="1.3"/><path d="M562 517.7L562.6 538.1L571.2 540.1" stroke="#c4d6ba" stroke-width="1.3"/><path d="M562 544.2L565.1 552.3" stroke="#c4d6ba" stroke-width="1.3"/><path d="M660 450.4L672.2 444.3L686.5 436.1L692.6 431" stroke="#c4d6ba" stroke-width="1.3"/><path d="M664.1 436.1L680.4 448.3L696.7 458.5L711 468.7L727.3 478.9L737.5 487.1L749.7 491.2" stroke="#c4d6ba" stroke-width="1.3"/><path d="M690.6 436.1L702.8 444.3" stroke="#c4d6ba" stroke-width="1.3"/><path d="M727.3 434.1L743.6 440.2" stroke="#c4d6ba" stroke-width="1.3"/><path d="M757.9 434.1L741.5 450.4L725.2 462.6L711 468.7" stroke="#c4d6ba" stroke-width="1.3"/><path d="M761.9 438.2L759.9 460.6L760.9 485" stroke="#c4d6ba" stroke-width="1.3"/><path d="M680.4 456.5L676.3 470.8L672.2 487.1" stroke="#c4d6ba" stroke-width="1.3"/><path d="M664.1 472.8L664.1 491.2L664.1 515.6L661 527.9" stroke="#c4d6ba" stroke-width="1.3"/><path d="M670.2 511.5L686.5 507.5L700.8 503.4L717.1 500.3L733.4 495.2L749.7 492.2" stroke="#c4d6ba" stroke-width="1.3"/><path d="M682.4 513.6L687.5 525.8" stroke="#c4d6ba" stroke-width="1.3"/><path d="M731.4 495.2L739.5 511.5L745.6 527.9L751.7 542.1" stroke="#c4d6ba" stroke-width="1.3"/><path d="M706.9 474.9L715 489.1" stroke="#c4d6ba" stroke-width="1.3"/><path d="M717.1 522.8L723.2 534L731.4 550.3L741.5 560.5L749.7 572.7L757.9 581.9" stroke="#c4d6ba" stroke-width="1.3"/><path d="M662 552.3L676.3 549.3L692.6 548.2" stroke="#c4d6ba" stroke-width="1.3"/><path d="M706.9 593.1L721.2 598" stroke="#c4d6ba" stroke-width="1.3"/><path d="M561 603.2L581.5 602.2L602 603.2L622.5 605.3L632.8 606.3" stroke="#c4d6ba" stroke-width="1.3"/><path d="M561 621.7L571.3 611.4L581.5 604.2" stroke="#c4d6ba" stroke-width="1.3"/><path d="M620.5 625.8L626.6 640.1L636.9 654.5L645.1 668.8L651.3 681.2L657.4 691.4L665.6 699.6" stroke="#c4d6ba" stroke-width="1.3"/><path d="M561 636L571.3 644.2L581.5 654.5L593.8 662.7L606.1 672.9L618.4 679.1L626.6 683.2L638.9 685.3L651.3 691.4L665.6 705.8" stroke="#c4d6ba" stroke-width="1.3"/><path d="M634.8 619.6L635.9 638.1" stroke="#c4d6ba" stroke-width="1.3"/><path d="M561 683.2L577.4 681.2L591.8 679.1" stroke="#c4d6ba" stroke-width="1.3"/><path d="M595.9 679.1L587.7 693.5L579.5 709.9L571.3 724.2L564.1 736.5" stroke="#c4d6ba" stroke-width="1.3"/><path d="M594.8 660.6L596.9 679.1" stroke="#c4d6ba" stroke-width="1.3"/><path d="M624.6 689.4L619.5 718.1" stroke="#c4d6ba" stroke-width="1.3"/><path d="M628.7 691.4L634.8 709.9L638.9 726.3L643.1 742.7L645.1 764" stroke="#c4d6ba" stroke-width="1.3"/><path d="M643.1 726.3L648.2 728.3" stroke="#c4d6ba" stroke-width="1.3"/><path d="M632.8 656.5L628.7 677.1" stroke="#c4d6ba" stroke-width="1.3"/><path d="M654.3 651.4L663.6 647.3" stroke="#c4d6ba" stroke-width="1.3"/><path d="M561 714L569.2 722.2" stroke="#c4d6ba" stroke-width="1.3"/><path d="M638.9 607.3L649.2 611.4L665.6 613.5" stroke="#c4d6ba" stroke-width="1.3"/><path d="M711.3 596L731.8 601.2L752.3 605.3L765 606.3" stroke="#c4d6ba" stroke-width="1.3"/><path d="M660 607.3L672.3 615.5L682.6 623.7L692.8 629.9L705.1 632.9L717.4 630.9L725.6 623.7" stroke="#c4d6ba" stroke-width="1.3"/><path d="M682.6 623.7L699 617.6L703.1 614.5" stroke="#c4d6ba" stroke-width="1.3"/><path d="M715.4 634L718.4 644.2" stroke="#c4d6ba" stroke-width="1.3"/><path d="M660 646.3L672.3 640.1L682.6 631.9" stroke="#c4d6ba" stroke-width="1.3"/><path d="M683.6 631.9L682.6 648.3L680.5 666.8" stroke="#c4d6ba" stroke-width="1.3"/><path d="M686.7 649.3L701 654.5L721.5 657.6L750.2 660.6" stroke="#c4d6ba" stroke-width="1.3"/><path d="M709.2 677L725.6 683.2L742 689.3L756.4 695.5L765 699.6" stroke="#c4d6ba" stroke-width="1.3"/><path d="M761.5 658.6L758.4 681.1L754.3 701.6L748.2 722.2L746.1 738.6" stroke="#c4d6ba" stroke-width="1.3"/><path d="M660 689.3L670.3 705.7L684.6 713.9L699 718.1" stroke="#c4d6ba" stroke-width="1.3"/><path d="M660 705.7L668.2 711.9L682.6 715" stroke="#c4d6ba" stroke-width="1.3"/><path d="M692.8 697.5L705.1 709.8L717.4 720.1L725.6 734.5L731.8 746.8L740 757L748.2 761.1" stroke="#c4d6ba" stroke-width="1.3"/><path d="M721.5 718.1L725.6 713.9" stroke="#c4d6ba" stroke-width="1.3"/><path d="M737.9 755L756.4 752.9L765 750.9" stroke="#c4d6ba" stroke-width="1.3"/><path d="M756.4 709.8L760.5 738.6" stroke="#c4d6ba" stroke-width="1.3"/></g><g filter="url(#bl)"><circle cx="609.2" cy="455.9" r="3.6" fill="#4e5a5a" opacity="0.6"/><circle cx="608.9" cy="455.5" r="3.0" fill="url(#cellb)"/><circle cx="607.2" cy="464" r="3.6" fill="#4e5a5a" opacity="0.6"/><circle cx="606.9" cy="463.6" r="3.0" fill="url(#cellb)"/><circle cx="582.7" cy="501.8" r="3.6" fill="#4e5a5a" opacity="0.6"/><circle cx="582.4" cy="501.4" r="3.0" fill="url(#cellb)"/><circle cx="637.8" cy="500.8" r="3.6" fill="#4e5a5a" opacity="0.6"/><circle cx="637.5" cy="500.4" r="3.0" fill="url(#cellb)"/><circle cx="646.9" cy="510.9" r="3.6" fill="#4e5a5a" opacity="0.6"/><circle cx="646.6" cy="510.5" r="3.0" fill="url(#cellb)"/><circle cx="657.1" cy="481.4" r="3.6" fill="#4e5a5a" opacity="0.6"/><circle cx="656.8" cy="481" r="3.0" fill="url(#cellb)"/><circle cx="646.9" cy="560.9" r="3.6" fill="#4e5a5a" opacity="0.6"/><circle cx="646.6" cy="560.5" r="3.0" fill="url(#cellb)"/><circle cx="648" cy="465.1" r="3.6" fill="#4e5a5a" opacity="0.6"/><circle cx="647.7" cy="464.7" r="3.0" fill="url(#cellb)"/><circle cx="653.1" cy="587.4" r="3.6" fill="#4e5a5a" opacity="0.6"/><circle cx="652.8" cy="587" r="3.0" fill="url(#cellb)"/><circle cx="663.3" cy="436.5" r="3.6" fill="#4e5a5a" opacity="0.6"/><circle cx="663" cy="436.1" r="3.0" fill="url(#cellb)"/><circle cx="571.5" cy="540.5" r="3.6" fill="#4e5a5a" opacity="0.6"/><circle cx="571.2" cy="540.1" r="3.0" fill="url(#cellb)"/><circle cx="565.4" cy="552.7" r="3.6" fill="#4e5a5a" opacity="0.6"/><circle cx="565.1" cy="552.3" r="3.0" fill="url(#cellb)"/><circle cx="667.4" cy="467.1" r="3.6" fill="#4e5a5a" opacity="0.6"/><circle cx="667.1" cy="466.7" r="3.0" fill="url(#cellb)"/><circle cx="677.6" cy="483.4" r="3.6" fill="#4e5a5a" opacity="0.6"/><circle cx="677.3" cy="483" r="3.0" fill="url(#cellb)"/><circle cx="680.7" cy="456.9" r="3.6" fill="#4e5a5a" opacity="0.6"/><circle cx="680.4" cy="456.5" r="3.0" fill="url(#cellb)"/><circle cx="731.7" cy="479.3" r="3.6" fill="#4e5a5a" opacity="0.6"/><circle cx="731.4" cy="478.9" r="3.0" fill="url(#cellb)"/><circle cx="734.7" cy="495.6" r="3.6" fill="#4e5a5a" opacity="0.6"/><circle cx="734.4" cy="495.2" r="3.0" fill="url(#cellb)"/><circle cx="718.4" cy="523.2" r="3.6" fill="#4e5a5a" opacity="0.6"/><circle cx="718.1" cy="522.8" r="3.0" fill="url(#cellb)"/><circle cx="762.2" cy="485.4" r="3.6" fill="#4e5a5a" opacity="0.6"/><circle cx="761.9" cy="485" r="3.0" fill="url(#cellb)"/><circle cx="664.4" cy="559.9" r="3.6" fill="#4e5a5a" opacity="0.6"/><circle cx="664.1" cy="559.5" r="3.0" fill="url(#cellb)"/><circle cx="664.4" cy="550.7" r="3.6" fill="#4e5a5a" opacity="0.6"/><circle cx="664.1" cy="550.3" r="3.0" fill="url(#cellb)"/><circle cx="665.4" cy="511.9" r="3.6" fill="#4e5a5a" opacity="0.6"/><circle cx="665.1" cy="511.5" r="3.0" fill="url(#cellb)"/><circle cx="664.4" cy="436.5" r="3.6" fill="#4e5a5a" opacity="0.6"/><circle cx="664.1" cy="436.1" r="3.0" fill="url(#cellb)"/><circle cx="621.8" cy="615.9" r="3.6" fill="#4e5a5a" opacity="0.6"/><circle cx="621.5" cy="615.5" r="3.0" fill="url(#cellb)"/><circle cx="620.8" cy="626.2" r="3.6" fill="#4e5a5a" opacity="0.6"/><circle cx="620.5" cy="625.8" r="3.0" fill="url(#cellb)"/><circle cx="631" cy="613.9" r="3.6" fill="#4e5a5a" opacity="0.6"/><circle cx="630.7" cy="613.5" r="3.0" fill="url(#cellb)"/><circle cx="637.2" cy="607.7" r="3.6" fill="#4e5a5a" opacity="0.6"/><circle cx="636.9" cy="607.3" r="3.0" fill="url(#cellb)"/><circle cx="594.1" cy="662.1" r="3.6" fill="#4e5a5a" opacity="0.6"/><circle cx="593.8" cy="661.7" r="3.0" fill="url(#cellb)"/><circle cx="597.2" cy="681.6" r="3.6" fill="#4e5a5a" opacity="0.6"/><circle cx="596.9" cy="681.2" r="3.0" fill="url(#cellb)"/><circle cx="619.8" cy="670.3" r="3.6" fill="#4e5a5a" opacity="0.6"/><circle cx="619.5" cy="669.9" r="3.0" fill="url(#cellb)"/><circle cx="626.9" cy="677.5" r="3.6" fill="#4e5a5a" opacity="0.6"/><circle cx="626.6" cy="677.1" r="3.0" fill="url(#cellb)"/><circle cx="564.4" cy="735.9" r="3.6" fill="#4e5a5a" opacity="0.6"/><circle cx="564.1" cy="735.5" r="3.0" fill="url(#cellb)"/><circle cx="562.3" cy="638.5" r="3.6" fill="#4e5a5a" opacity="0.6"/><circle cx="562" cy="638.1" r="3.0" fill="url(#cellb)"/><circle cx="703.4" cy="614.9" r="3.6" fill="#4e5a5a" opacity="0.6"/><circle cx="703.1" cy="614.5" r="3.0" fill="url(#cellb)"/><circle cx="728" cy="623.1" r="3.6" fill="#4e5a5a" opacity="0.6"/><circle cx="727.7" cy="622.7" r="3.0" fill="url(#cellb)"/><circle cx="683.9" cy="625.1" r="3.6" fill="#4e5a5a" opacity="0.6"/><circle cx="683.6" cy="624.7" r="3.0" fill="url(#cellb)"/><circle cx="681.8" cy="636.4" r="3.6" fill="#4e5a5a" opacity="0.6"/><circle cx="681.5" cy="636" r="3.0" fill="url(#cellb)"/><circle cx="683.9" cy="647.7" r="3.6" fill="#4e5a5a" opacity="0.6"/><circle cx="683.6" cy="647.3" r="3.0" fill="url(#cellb)"/><circle cx="684.9" cy="714.3" r="3.6" fill="#4e5a5a" opacity="0.6"/><circle cx="684.6" cy="713.9" r="3.0" fill="url(#cellb)"/><circle cx="723.9" cy="715.4" r="3.6" fill="#4e5a5a" opacity="0.6"/><circle cx="723.6" cy="715" r="3.0" fill="url(#cellb)"/><circle cx="733.1" cy="748.2" r="3.6" fill="#4e5a5a" opacity="0.6"/><circle cx="732.8" cy="747.8" r="3.0" fill="url(#cellb)"/><circle cx="758.7" cy="753.3" r="3.6" fill="#4e5a5a" opacity="0.6"/><circle cx="758.4" cy="752.9" r="3.0" fill="url(#cellb)"/><circle cx="675.7" cy="758.4" r="3.6" fill="#4e5a5a" opacity="0.6"/><circle cx="675.4" cy="758" r="3.0" fill="url(#cellb)"/><circle cx="664.4" cy="611.8" r="3.6" fill="#4e5a5a" opacity="0.6"/><circle cx="664.1" cy="611.4" r="3.0" fill="url(#cellb)"/></g><rect x="569.3" y="751.0" width="35.9" height="3.5" fill="#000"/></g>
<g><path d="M69.45 11.9V345.1" stroke="#000" stroke-width="1.5" fill="none"/><path d="M63 337.8H529.1" stroke="#000" stroke-width="1.5" fill="none"/><path d="M63 337.65H69.45" stroke="#000" stroke-width="1.5"/><path d="M63 308.1H69.45" stroke="#000" stroke-width="1.5"/><text x="56.2" y="313.1" text-anchor="end" font-family="Liberation Sans" font-weight="bold" font-size="14.6" stroke="#000" stroke-width="0.3">0</text><path d="M63 278.55H69.45" stroke="#000" stroke-width="1.5"/><text x="56.2" y="283.55" text-anchor="end" font-family="Liberation Sans" font-weight="bold" font-size="14.6" stroke="#000" stroke-width="0.3">10</text><path d="M63 249H69.45" stroke="#000" stroke-width="1.5"/><text x="56.2" y="254" text-anchor="end" font-family="Liberation Sans" font-weight="bold" font-size="14.6" stroke="#000" stroke-width="0.3">20</text><path d="M63 219.45H69.45" stroke="#000" stroke-width="1.5"/><text x="56.2" y="224.45" text-anchor="end" font-family="Liberation Sans" font-weight="bold" font-size="14.6" stroke="#000" stroke-width="0.3">30</text><path d="M63 189.9H69.45" stroke="#000" stroke-width="1.5"/><text x="56.2" y="194.9" text-anchor="end" font-family="Liberation Sans" font-weight="bold" font-size="14.6" stroke="#000" stroke-width="0.3">40</text><path d="M63 160.35H69.45" stroke="#000" stroke-width="1.5"/><text x="56.2" y="165.35" text-anchor="end" font-family="Liberation Sans" font-weight="bold" font-size="14.6" stroke="#000" stroke-width="0.3">50</text><path d="M63 130.8H69.45" stroke="#000" stroke-width="1.5"/><text x="56.2" y="135.8" text-anchor="end" font-family="Liberation Sans" font-weight="bold" font-size="14.6" stroke="#000" stroke-width="0.3">60</text><path d="M63 101.25H69.45" stroke="#000" stroke-width="1.5"/><text x="56.2" y="106.25" text-anchor="end" font-family="Liberation Sans" font-weight="bold" font-size="14.6" stroke="#000" stroke-width="0.3">70</text><path d="M63 71.7H69.45" stroke="#000" stroke-width="1.5"/><text x="56.2" y="76.7" text-anchor="end" font-family="Liberation Sans" font-weight="bold" font-size="14.6" stroke="#000" stroke-width="0.3">80</text><path d="M63 42.15H69.45" stroke="#000" stroke-width="1.5"/><text x="56.2" y="47.15" text-anchor="end" font-family="Liberation Sans" font-weight="bold" font-size="14.6" stroke="#000" stroke-width="0.3">90</text><path d="M63 12.6H69.45" stroke="#000" stroke-width="1.5"/><text x="56.2" y="17.6" text-anchor="end" font-family="Liberation Sans" font-weight="bold" font-size="14.6" stroke="#000" stroke-width="0.3">100</text><path d="M69.45 337.8V345.1" stroke="#000" stroke-width="1.5"/><text x="69.9" y="363.2" text-anchor="middle" font-family="Liberation Sans" font-weight="bold" font-size="14.6" stroke="#000" stroke-width="0.3">0</text><path d="M145.2 337.8V345.1" stroke="#000" stroke-width="1.5"/><text x="146.6" y="363.2" text-anchor="middle" font-family="Liberation Sans" font-weight="bold" font-size="14.6" stroke="#000" stroke-width="0.3">10</text><path d="M222.4 337.8V345.1" stroke="#000" stroke-width="1.5"/><text x="222.9" y="363.2" text-anchor="middle" font-family="Liberation Sans" font-weight="bold" font-size="14.6" stroke="#000" stroke-width="0.3">20</text><path d="M298.2 337.8V345.1" stroke="#000" stroke-width="1.5"/><text x="299.4" y="363.2" text-anchor="middle" font-family="Liberation Sans" font-weight="bold" font-size="14.6" stroke="#000" stroke-width="0.3">30</text><path d="M375.2 337.8V345.1" stroke="#000" stroke-width="1.5"/><text x="376" y="363.2" text-anchor="middle" font-family="Liberation Sans" font-weight="bold" font-size="14.6" stroke="#000" stroke-width="0.3">40</text><path d="M452.4 337.8V345.1" stroke="#000" stroke-width="1.5"/><text x="452.6" y="363.2" text-anchor="middle" font-family="Liberation Sans" font-weight="bold" font-size="14.6" stroke="#000" stroke-width="0.3">50</text><path d="M528.4 337.8V345.1" stroke="#000" stroke-width="1.5"/><text x="528.7" y="363.2" text-anchor="middle" font-family="Liberation Sans" font-weight="bold" font-size="14.6" stroke="#000" stroke-width="0.3">60</text><text x="8.6" y="19.6" font-family="Liberation Sans" font-weight="bold" font-size="23">a</text><text transform="translate(15.6 211.8) rotate(-90) scale(0.925 1)" font-family="Liberation Sans" font-weight="bold" font-size="19.6" stroke="#000" stroke-width="0.25">% killing</text><text transform="translate(299.4 390.2) scale(1 0.92)" text-anchor="middle" font-family="Liberation Sans" font-weight="bold" font-size="17.5" stroke="#000" stroke-width="0.25">Time (min)</text><path d="M223.7 37.4V73" stroke="#000" stroke-width="1.3" fill="none"/><path d="M219.9 37.4H227.5" stroke="#000" stroke-width="1.3"/><path d="M219.9 73H227.5" stroke="#000" stroke-width="1.3"/><path d="M299.4 25.6V57.4" stroke="#000" stroke-width="1.3" fill="none"/><path d="M295.6 25.6H303.2" stroke="#000" stroke-width="1.3"/><path d="M295.6 57.4H303.2" stroke="#000" stroke-width="1.3"/><path d="M69.45 308.2L146.5 50.4L222.6 53.7L299.5 41.3L528.6 29.8" stroke="#000" stroke-width="1.35" fill="none" stroke-linejoin="round"/><path d="M69.45 301.4L76.25 308.2L69.45 315L62.65 308.2Z" fill="#000"/><path d="M146.5 43.6L153.3 50.4L146.5 57.2L139.7 50.4Z" fill="#000"/><path d="M222.6 46.9L229.4 53.7L222.6 60.5L215.8 53.7Z" fill="#000"/><path d="M299.5 34.5L306.3 41.3L299.5 48.1L292.7 41.3Z" fill="#000"/><path d="M528.6 23L535.4 29.8L528.6 36.6L521.8 29.8Z" fill="#000"/><path d="M146.4 72.7V93.6" stroke="#000" stroke-width="1.3" fill="none"/><path d="M142.6 72.7H150.2" stroke="#000" stroke-width="1.3"/><path d="M142.6 93.6H150.2" stroke="#000" stroke-width="1.3"/><path d="M223.7 52.6V105.2" stroke="#000" stroke-width="1.3" fill="none"/><path d="M219.9 52.6H227.5" stroke="#000" stroke-width="1.3"/><path d="M219.9 105.2H227.5" stroke="#000" stroke-width="1.3"/><path d="M299.4 73.8V81.8" stroke="#000" stroke-width="1.3" fill="none"/><path d="M295.6 81.8H303.2" stroke="#000" stroke-width="1.3"/><path d="M529.9 36.2V88.4" stroke="#000" stroke-width="1.3" fill="none"/><path d="M526.1 36.2H533.7" stroke="#000" stroke-width="1.3"/><path d="M526.1 88.4H533.7" stroke="#000" stroke-width="1.3"/><path d="M69.45 308.2L146.5 83L222.6 78.9L299.5 73.8L528.6 62.4" stroke="#000" stroke-width="1.35" fill="none" stroke-linejoin="round"/><rect x="63.85" y="302.6" width="11.2" height="11.2" fill="#000"/><rect x="140.9" y="77.4" width="11.2" height="11.2" fill="#000"/><rect x="217" y="73.3" width="11.2" height="11.2" fill="#000"/><rect x="293.9" y="68.2" width="11.2" height="11.2" fill="#000"/><rect x="523" y="56.8" width="11.2" height="11.2" fill="#000"/><path d="M146.4 141.3V156.7" stroke="#000" stroke-width="1.3" fill="none"/><path d="M142.6 141.3H150.2" stroke="#000" stroke-width="1.3"/><path d="M142.6 156.7H150.2" stroke="#000" stroke-width="1.3"/><path d="M223.7 129.1V170.4" stroke="#000" stroke-width="1.3" fill="none"/><path d="M219.9 129.1H227.5" stroke="#000" stroke-width="1.3"/><path d="M219.9 170.4H227.5" stroke="#000" stroke-width="1.3"/><path d="M299.4 130.6V151" stroke="#000" stroke-width="1.3" fill="none"/><path d="M295.6 130.6H303.2" stroke="#000" stroke-width="1.3"/><path d="M295.6 151H303.2" stroke="#000" stroke-width="1.3"/><path d="M529.9 118.6V177.2" stroke="#000" stroke-width="1.3" fill="none"/><path d="M526.1 118.6H533.7" stroke="#000" stroke-width="1.3"/><path d="M526.1 177.2H533.7" stroke="#000" stroke-width="1.3"/><path d="M69.45 308.2L146.5 149L222.6 149.8L299.5 139L528.6 148" stroke="#000" stroke-width="1.35" fill="none" stroke-linejoin="round"/><path d="M69.45 301.7L76.25 314.7L62.65 314.7Z" fill="#000"/><path d="M146.5 142.5L153.3 155.5L139.7 155.5Z" fill="#000"/><path d="M222.6 143.3L229.4 156.3L215.8 156.3Z" fill="#000"/><path d="M299.5 132.5L306.3 145.5L292.7 145.5Z" fill="#000"/><path d="M528.6 141.5L535.4 154.5L521.8 154.5Z" fill="#000"/><path d="M146.4 247.4V258.6" stroke="#000" stroke-width="1.3" fill="none"/><path d="M142.6 247.4H150.2" stroke="#000" stroke-width="1.3"/><path d="M142.6 258.6H150.2" stroke="#000" stroke-width="1.3"/><path d="M223.7 225.5V268" stroke="#000" stroke-width="1.3" fill="none"/><path d="M219.9 225.5H227.5" stroke="#000" stroke-width="1.3"/><path d="M219.9 268H227.5" stroke="#000" stroke-width="1.3"/><path d="M299.4 210.9V258.4" stroke="#000" stroke-width="1.3" fill="none"/><path d="M295.6 210.9H303.2" stroke="#000" stroke-width="1.3"/><path d="M295.6 258.4H303.2" stroke="#000" stroke-width="1.3"/><path d="M529.9 203.4V257" stroke="#000" stroke-width="1.3" fill="none"/><path d="M526.1 203.4H533.7" stroke="#000" stroke-width="1.3"/><path d="M526.1 257H533.7" stroke="#000" stroke-width="1.3"/><path d="M69.45 308.2L146.5 253L222.6 245L299.5 235L528.6 229.4" stroke="#000" stroke-width="1.35" fill="none" stroke-linejoin="round"/><path d="M69.45 302.7L75.25 313.7L63.65 313.7Z" fill="#fff" stroke="#000" stroke-width="1.5" stroke-linejoin="miter"/><path d="M146.5 247.5L152.3 258.5L140.7 258.5Z" fill="#fff" stroke="#000" stroke-width="1.5" stroke-linejoin="miter"/><path d="M222.6 239.5L228.4 250.5L216.8 250.5Z" fill="#fff" stroke="#000" stroke-width="1.5" stroke-linejoin="miter"/><path d="M299.5 229.5L305.3 240.5L293.7 240.5Z" fill="#fff" stroke="#000" stroke-width="1.5" stroke-linejoin="miter"/><path d="M528.6 223.9L534.4 234.9L522.8 234.9Z" fill="#fff" stroke="#000" stroke-width="1.5" stroke-linejoin="miter"/><path d="M146.4 265.6V283.8" stroke="#000" stroke-width="1.3" fill="none"/><path d="M142.6 265.6H150.2" stroke="#000" stroke-width="1.3"/><path d="M142.6 283.8H150.2" stroke="#000" stroke-width="1.3"/><path d="M69.45 308.2L146.5 274.7L222.6 273.5L299.5 268.4L528.6 267.2" stroke="#000" stroke-width="1.35" fill="none" stroke-linejoin="round"/><rect x="64.75" y="303.5" width="9.4" height="9.4" fill="#fff" stroke="#000" stroke-width="1.5"/><rect x="141.8" y="270" width="9.4" height="9.4" fill="#fff" stroke="#000" stroke-width="1.5"/><rect x="217.9" y="268.8" width="9.4" height="9.4" fill="#fff" stroke="#000" stroke-width="1.5"/><rect x="294.8" y="263.7" width="9.4" height="9.4" fill="#fff" stroke="#000" stroke-width="1.5"/><rect x="523.9" y="262.5" width="9.4" height="9.4" fill="#fff" stroke="#000" stroke-width="1.5"/><path d="M69.45 308.2L146.5 286.7L222.6 285.5L299.5 282.8L528.6 282.2" stroke="#000" stroke-width="1.35" fill="none" stroke-linejoin="round"/><circle cx="69.45" cy="308.2" r="5.1" fill="#fff" stroke="#000" stroke-width="1.5"/><circle cx="146.5" cy="286.7" r="5.1" fill="#fff" stroke="#000" stroke-width="1.5"/><circle cx="222.6" cy="285.5" r="5.1" fill="#fff" stroke="#000" stroke-width="1.5"/><circle cx="299.5" cy="282.8" r="5.1" fill="#fff" stroke="#000" stroke-width="1.5"/><circle cx="528.6" cy="282.2" r="5.1" fill="#fff" stroke="#000" stroke-width="1.5"/><path d="M299.4 272.4V290.9" stroke="#000" stroke-width="1.3" fill="none"/><path d="M295.6 272.4H303.2" stroke="#000" stroke-width="1.3"/><path d="M295.6 290.9H303.2" stroke="#000" stroke-width="1.3"/><path d="M529.9 273.4V290.2" stroke="#000" stroke-width="1.3" fill="none"/><path d="M526.1 273.4H533.7" stroke="#000" stroke-width="1.3"/><path d="M526.1 290.2H533.7" stroke="#000" stroke-width="1.3"/><path d="M69.45 308.2L146.5 282.6L222.6 281.8L299.5 281.7L528.6 281.7" stroke="#000" stroke-width="1.35" fill="none" stroke-linejoin="round"/><circle cx="69.45" cy="308.2" r="5.9" fill="#000"/><circle cx="146.5" cy="282.6" r="5.9" fill="#000"/><circle cx="222.6" cy="281.8" r="5.9" fill="#000"/><circle cx="299.5" cy="281.7" r="5.9" fill="#000"/><circle cx="528.6" cy="281.7" r="5.9" fill="#000"/><path d="M146.4 285.5V314.5" stroke="#000" stroke-width="1.3" fill="none"/><path d="M142.6 285.5H150.2" stroke="#000" stroke-width="1.3"/><path d="M142.6 314.5H150.2" stroke="#000" stroke-width="1.3"/><path d="M299.4 291.2V308.4" stroke="#000" stroke-width="1.3" fill="none"/><path d="M295.6 291.2H303.2" stroke="#000" stroke-width="1.3"/><path d="M295.6 308.4H303.2" stroke="#000" stroke-width="1.3"/><path d="M69.45 308.2L146.5 300L222.6 300L299.5 299.8L528.6 299.8" stroke="#000" stroke-width="1.35" fill="none" stroke-linejoin="round"/><path d="M69.45 302.7L74.95 308.2L69.45 313.7L63.95 308.2Z" fill="#fff" stroke="#000" stroke-width="1.5" stroke-linejoin="miter"/><path d="M146.5 294.5L152 300L146.5 305.5L141 300Z" fill="#fff" stroke="#000" stroke-width="1.5" stroke-linejoin="miter"/><path d="M222.6 294.5L228.1 300L222.6 305.5L217.1 300Z" fill="#fff" stroke="#000" stroke-width="1.5" stroke-linejoin="miter"/><path d="M299.5 294.3L305 299.8L299.5 305.3L294 299.8Z" fill="#fff" stroke="#000" stroke-width="1.5" stroke-linejoin="miter"/><path d="M528.6 294.3L534.1 299.8L528.6 305.3L523.1 299.8Z" fill="#fff" stroke="#000" stroke-width="1.5" stroke-linejoin="miter"/><circle cx="222.6" cy="285.3" r="6.0" fill="#000"/><path d="M62.1 315.7V305.2Q62.1 302.9 64.6 302.9H73.8Q76.3 302.9 76.3 305.2V315.7Z" fill="#000"/><path d="M64.5 308.6H74.4L69.45 314.2Z" fill="#fff"/><rect x="62.1" y="304.4" width="14.6" height="4.3" fill="#94e27a"/></g>
<g><path d="M74.65 431.6V775.5" stroke="#000" stroke-width="1.5" fill="none"/><path d="M68.25 769.4H531.5" stroke="#000" stroke-width="1.5" fill="none"/><path d="M68.25 769.39H74.65" stroke="#000" stroke-width="1.5"/><path d="M68.25 738.75H74.65" stroke="#000" stroke-width="1.5"/><text x="60.6" y="744.45" text-anchor="end" font-family="Liberation Sans" font-weight="bold" font-size="14.6" stroke="#000" stroke-width="0.3">0</text><path d="M68.25 708.11H74.65" stroke="#000" stroke-width="1.5"/><text x="60.6" y="713.81" text-anchor="end" font-family="Liberation Sans" font-weight="bold" font-size="14.6" stroke="#000" stroke-width="0.3">10</text><path d="M68.25 677.46H74.65" stroke="#000" stroke-width="1.5"/><text x="60.6" y="683.16" text-anchor="end" font-family="Liberation Sans" font-weight="bold" font-size="14.6" stroke="#000" stroke-width="0.3">20</text><path d="M68.25 646.82H74.65" stroke="#000" stroke-width="1.5"/><text x="60.6" y="652.52" text-anchor="end" font-family="Liberation Sans" font-weight="bold" font-size="14.6" stroke="#000" stroke-width="0.3">30</text><path d="M68.25 616.17H74.65" stroke="#000" stroke-width="1.5"/><text x="60.6" y="621.87" text-anchor="end" font-family="Liberation Sans" font-weight="bold" font-size="14.6" stroke="#000" stroke-width="0.3">40</text><path d="M68.25 585.52H74.65" stroke="#000" stroke-width="1.5"/><text x="60.6" y="591.23" text-anchor="end" font-family="Liberation Sans" font-weight="bold" font-size="14.6" stroke="#000" stroke-width="0.3">50</text><path d="M68.25 554.88H74.65" stroke="#000" stroke-width="1.5"/><text x="60.6" y="560.58" text-anchor="end" font-family="Liberation Sans" font-weight="bold" font-size="14.6" stroke="#000" stroke-width="0.3">60</text><path d="M68.25 524.24H74.65" stroke="#000" stroke-width="1.5"/><text x="60.6" y="529.94" text-anchor="end" font-family="Liberation Sans" font-weight="bold" font-size="14.6" stroke="#000" stroke-width="0.3">70</text><path d="M68.25 493.59H74.65" stroke="#000" stroke-width="1.5"/><text x="60.6" y="499.29" text-anchor="end" font-family="Liberation Sans" font-weight="bold" font-size="14.6" stroke="#000" stroke-width="0.3">80</text><path d="M68.25 462.94H74.65" stroke="#000" stroke-width="1.5"/><text x="60.6" y="468.64" text-anchor="end" font-family="Liberation Sans" font-weight="bold" font-size="14.6" stroke="#000" stroke-width="0.3">90</text><path d="M68.25 432.3H74.65" stroke="#000" stroke-width="1.5"/><text x="60.6" y="438" text-anchor="end" font-family="Liberation Sans" font-weight="bold" font-size="14.6" stroke="#000" stroke-width="0.3">100</text><path d="M74.65 769.4V775.5" stroke="#000" stroke-width="1.5"/><text x="75.1" y="792.6" text-anchor="middle" font-family="Liberation Sans" font-weight="bold" font-size="14.6" stroke="#000" stroke-width="0.3">0</text><path d="M150.4 769.4V775.5" stroke="#000" stroke-width="1.5"/><text x="151.1" y="792.6" text-anchor="middle" font-family="Liberation Sans" font-weight="bold" font-size="14.6" stroke="#000" stroke-width="0.3">10</text><path d="M226.1 769.4V775.5" stroke="#000" stroke-width="1.5"/><text x="226.7" y="792.6" text-anchor="middle" font-family="Liberation Sans" font-weight="bold" font-size="14.6" stroke="#000" stroke-width="0.3">20</text><path d="M302.4 769.4V775.5" stroke="#000" stroke-width="1.5"/><text x="302.9" y="792.6" text-anchor="middle" font-family="Liberation Sans" font-weight="bold" font-size="14.6" stroke="#000" stroke-width="0.3">30</text><path d="M379.4 769.4V775.5" stroke="#000" stroke-width="1.5"/><text x="379.6" y="792.6" text-anchor="middle" font-family="Liberation Sans" font-weight="bold" font-size="14.6" stroke="#000" stroke-width="0.3">40</text><path d="M455 769.4V775.5" stroke="#000" stroke-width="1.5"/><text x="455.4" y="792.6" text-anchor="middle" font-family="Liberation Sans" font-weight="bold" font-size="14.6" stroke="#000" stroke-width="0.3">50</text><path d="M530.8 769.4V775.5" stroke="#000" stroke-width="1.5"/><text x="531.1" y="792.6" text-anchor="middle" font-family="Liberation Sans" font-weight="bold" font-size="14.6" stroke="#000" stroke-width="0.3">60</text><text x="8.8" y="441.8" font-family="Liberation Sans" font-weight="bold" font-size="23">b</text><text transform="translate(24.5 640.2) rotate(-90) scale(0.925 1)" font-family="Liberation Sans" font-weight="bold" font-size="19.6" stroke="#000" stroke-width="0.25">% killing</text><text transform="translate(304.8 820.4) scale(1 0.92)" text-anchor="middle" font-family="Liberation Sans" font-weight="bold" font-size="17.5" stroke="#000" stroke-width="0.25">Time (min)</text><path d="M151.8 452.4V481" stroke="#000" stroke-width="1.3" fill="none"/><path d="M148 452.4H155.6" stroke="#000" stroke-width="1.3"/><path d="M148 481H155.6" stroke="#000" stroke-width="1.3"/><path d="M227.6 450.9V459.7" stroke="#000" stroke-width="1.3" fill="none"/><path d="M223.8 450.9H231.4" stroke="#000" stroke-width="1.3"/><path d="M223.8 459.7H231.4" stroke="#000" stroke-width="1.3"/><path d="M303.4 437.7V450.6" stroke="#000" stroke-width="1.3" fill="none"/><path d="M299.6 437.7H307.2" stroke="#000" stroke-width="1.3"/><path d="M299.6 450.6H307.2" stroke="#000" stroke-width="1.3"/><path d="M74.7 738.2L150.4 464.6L226.4 454.4L302.3 443.2L530.9 446.8" stroke="#000" stroke-width="1.35" fill="none" stroke-linejoin="round"/><path d="M74.7 731.4L81.5 738.2L74.7 745L67.9 738.2Z" fill="#000"/><path d="M150.4 457.8L157.2 464.6L150.4 471.4L143.6 464.6Z" fill="#000"/><path d="M226.4 447.6L233.2 454.4L226.4 461.2L219.6 454.4Z" fill="#000"/><path d="M302.3 436.4L309.1 443.2L302.3 450L295.5 443.2Z" fill="#000"/><path d="M530.9 440L537.7 446.8L530.9 453.6L524.1 446.8Z" fill="#000"/><path d="M151.8 489.1V538.3" stroke="#000" stroke-width="1.3" fill="none"/><path d="M148 489.1H155.6" stroke="#000" stroke-width="1.3"/><path d="M148 538.3H155.6" stroke="#000" stroke-width="1.3"/><path d="M303.4 458.7V477" stroke="#000" stroke-width="1.3" fill="none"/><path d="M299.6 458.7H307.2" stroke="#000" stroke-width="1.3"/><path d="M299.6 477H307.2" stroke="#000" stroke-width="1.3"/><path d="M74.7 738.2L150.4 512L226.4 479.7L302.3 466.8L530.9 441.6" stroke="#000" stroke-width="1.35" fill="none" stroke-linejoin="round"/><rect x="69.1" y="732.6" width="11.2" height="11.2" fill="#000"/><rect x="144.8" y="506.4" width="11.2" height="11.2" fill="#000"/><rect x="220.8" y="474.1" width="11.2" height="11.2" fill="#000"/><rect x="296.7" y="461.2" width="11.2" height="11.2" fill="#000"/><rect x="525.3" y="436" width="11.2" height="11.2" fill="#000"/><path d="M151.8 529V581.3" stroke="#000" stroke-width="1.3" fill="none"/><path d="M148 529H155.6" stroke="#000" stroke-width="1.3"/><path d="M148 581.3H155.6" stroke="#000" stroke-width="1.3"/><path d="M303.4 488.8V511.2" stroke="#000" stroke-width="1.3" fill="none"/><path d="M299.6 488.8H307.2" stroke="#000" stroke-width="1.3"/><path d="M299.6 511.2H307.2" stroke="#000" stroke-width="1.3"/><path d="M530.9 471.5V485" stroke="#000" stroke-width="1.3" fill="none"/><path d="M527.1 471.5H534.7" stroke="#000" stroke-width="1.3"/><path d="M527.1 485H534.7" stroke="#000" stroke-width="1.3"/><path d="M74.7 738.2L150.4 555L226.4 551.6L302.3 499.2L530.9 478.2" stroke="#000" stroke-width="1.35" fill="none" stroke-linejoin="round"/><path d="M74.7 731.7L81.5 744.7L67.9 744.7Z" fill="#000"/><path d="M150.4 548.5L157.2 561.5L143.6 561.5Z" fill="#000"/><path d="M226.4 545.1L233.2 558.1L219.6 558.1Z" fill="#000"/><path d="M302.3 492.7L309.1 505.7L295.5 505.7Z" fill="#000"/><path d="M530.9 471.7L537.7 484.7L524.1 484.7Z" fill="#000"/><path d="M151.8 612.7V656" stroke="#000" stroke-width="1.3" fill="none"/><path d="M148 612.7H155.6" stroke="#000" stroke-width="1.3"/><path d="M148 656H155.6" stroke="#000" stroke-width="1.3"/><path d="M227.6 615.8V656.1" stroke="#000" stroke-width="1.3" fill="none"/><path d="M223.8 615.8H231.4" stroke="#000" stroke-width="1.3"/><path d="M223.8 656.1H231.4" stroke="#000" stroke-width="1.3"/><path d="M303.4 578.2V590.6" stroke="#000" stroke-width="1.3" fill="none"/><path d="M299.6 578.2H307.2" stroke="#000" stroke-width="1.3"/><path d="M299.6 590.6H307.2" stroke="#000" stroke-width="1.3"/><path d="M530.9 551.4V576.5" stroke="#000" stroke-width="1.3" fill="none"/><path d="M527.1 551.4H534.7" stroke="#000" stroke-width="1.3"/><path d="M527.1 576.5H534.7" stroke="#000" stroke-width="1.3"/><path d="M74.7 738.2L150.4 634L226.4 635L302.3 584.4L530.9 563.4" stroke="#000" stroke-width="1.35" fill="none" stroke-linejoin="round"/><path d="M74.7 732.7L80.5 743.7L68.9 743.7Z" fill="#fff" stroke="#000" stroke-width="1.5" stroke-linejoin="miter"/><path d="M150.4 628.5L156.2 639.5L144.6 639.5Z" fill="#fff" stroke="#000" stroke-width="1.5" stroke-linejoin="miter"/><path d="M226.4 629.5L232.2 640.5L220.6 640.5Z" fill="#fff" stroke="#000" stroke-width="1.5" stroke-linejoin="miter"/><path d="M302.3 578.9L308.1 589.9L296.5 589.9Z" fill="#fff" stroke="#000" stroke-width="1.5" stroke-linejoin="miter"/><path d="M530.9 557.9L536.7 568.9L525.1 568.9Z" fill="#fff" stroke="#000" stroke-width="1.5" stroke-linejoin="miter"/><path d="M151.8 688.7V726.4" stroke="#000" stroke-width="1.3" fill="none"/><path d="M148 688.7H155.6" stroke="#000" stroke-width="1.3"/><path d="M148 726.4H155.6" stroke="#000" stroke-width="1.3"/><path d="M227.6 670.1V702.4" stroke="#000" stroke-width="1.3" fill="none"/><path d="M223.8 670.1H231.4" stroke="#000" stroke-width="1.3"/><path d="M223.8 702.4H231.4" stroke="#000" stroke-width="1.3"/><path d="M303.4 650.9V691.2" stroke="#000" stroke-width="1.3" fill="none"/><path d="M299.6 650.9H307.2" stroke="#000" stroke-width="1.3"/><path d="M299.6 691.2H307.2" stroke="#000" stroke-width="1.3"/><path d="M530.9 641.4V667.6" stroke="#000" stroke-width="1.3" fill="none"/><path d="M527.1 641.4H534.7" stroke="#000" stroke-width="1.3"/><path d="M527.1 667.6H534.7" stroke="#000" stroke-width="1.3"/><path d="M74.7 738.2L150.4 706.8L226.4 686L302.3 670.2L530.9 653.1" stroke="#000" stroke-width="1.35" fill="none" stroke-linejoin="round"/><rect x="70" y="733.5" width="9.4" height="9.4" fill="#fff" stroke="#000" stroke-width="1.5"/><rect x="145.7" y="702.1" width="9.4" height="9.4" fill="#fff" stroke="#000" stroke-width="1.5"/><rect x="221.7" y="681.3" width="9.4" height="9.4" fill="#fff" stroke="#000" stroke-width="1.5"/><rect x="297.6" y="665.5" width="9.4" height="9.4" fill="#fff" stroke="#000" stroke-width="1.5"/><rect x="526.2" y="648.4" width="9.4" height="9.4" fill="#fff" stroke="#000" stroke-width="1.5"/><path d="M227.6 725.2V732.8" stroke="#000" stroke-width="1.3" fill="none"/><path d="M223.8 732.8H231.4" stroke="#000" stroke-width="1.3"/><path d="M303.4 719.4V747.3" stroke="#000" stroke-width="1.3" fill="none"/><path d="M299.6 719.4H307.2" stroke="#000" stroke-width="1.3"/><path d="M299.6 747.3H307.2" stroke="#000" stroke-width="1.3"/><path d="M74.7 738.2L150.4 738L226.4 725.2L302.3 733L530.9 738" stroke="#000" stroke-width="1.35" fill="none" stroke-linejoin="round"/><circle cx="74.7" cy="738.2" r="5.1" fill="#fff" stroke="#000" stroke-width="1.5"/><circle cx="150.4" cy="738" r="5.1" fill="#fff" stroke="#000" stroke-width="1.5"/><circle cx="226.4" cy="725.2" r="5.1" fill="#fff" stroke="#000" stroke-width="1.5"/><circle cx="302.3" cy="733" r="5.1" fill="#fff" stroke="#000" stroke-width="1.5"/><circle cx="530.9" cy="738" r="5.1" fill="#fff" stroke="#000" stroke-width="1.5"/><path d="M227.6 710.6V716.1" stroke="#000" stroke-width="1.3" fill="none"/><path d="M223.8 710.6H231.4" stroke="#000" stroke-width="1.3"/><path d="M303.4 695V721.8" stroke="#000" stroke-width="1.3" fill="none"/><path d="M299.6 695H307.2" stroke="#000" stroke-width="1.3"/><path d="M299.6 721.8H307.2" stroke="#000" stroke-width="1.3"/><path d="M530.9 685.6V710.5" stroke="#000" stroke-width="1.3" fill="none"/><path d="M527.1 685.6H534.7" stroke="#000" stroke-width="1.3"/><path d="M527.1 710.5H534.7" stroke="#000" stroke-width="1.3"/><path d="M74.7 738.2L150.4 738L226.4 716.1L302.3 708.2L530.9 697.6" stroke="#000" stroke-width="1.35" fill="none" stroke-linejoin="round"/><circle cx="74.7" cy="738.2" r="5.9" fill="#000"/><circle cx="150.4" cy="738" r="5.9" fill="#000"/><circle cx="226.4" cy="716.1" r="5.9" fill="#000"/><circle cx="302.3" cy="708.2" r="5.9" fill="#000"/><circle cx="530.9" cy="697.6" r="5.9" fill="#000"/><path d="M151.8 731V745" stroke="#000" stroke-width="1.3" fill="none"/><path d="M148 731H155.6" stroke="#000" stroke-width="1.3"/><path d="M148 745H155.6" stroke="#000" stroke-width="1.3"/><path d="M227.6 730.3V748.9" stroke="#000" stroke-width="1.3" fill="none"/><path d="M223.8 730.3H231.4" stroke="#000" stroke-width="1.3"/><path d="M223.8 748.9H231.4" stroke="#000" stroke-width="1.3"/><path d="M303.4 719.6V756.4" stroke="#000" stroke-width="1.3" fill="none"/><path d="M299.6 719.6H307.2" stroke="#000" stroke-width="1.3"/><path d="M299.6 756.4H307.2" stroke="#000" stroke-width="1.3"/><path d="M530.9 731V745" stroke="#000" stroke-width="1.3" fill="none"/><path d="M527.1 731H534.7" stroke="#000" stroke-width="1.3"/><path d="M527.1 745H534.7" stroke="#000" stroke-width="1.3"/><path d="M74.7 738.2L150.4 738L226.4 738L302.3 738L530.9 737.8" stroke="#000" stroke-width="1.35" fill="none" stroke-linejoin="round"/><path d="M74.7 732.7L80.2 738.2L74.7 743.7L69.2 738.2Z" fill="#fff" stroke="#000" stroke-width="1.5" stroke-linejoin="miter"/><path d="M150.4 732.5L155.9 738L150.4 743.5L144.9 738Z" fill="#fff" stroke="#000" stroke-width="1.5" stroke-linejoin="miter"/><path d="M226.4 732.5L231.9 738L226.4 743.5L220.9 738Z" fill="#fff" stroke="#000" stroke-width="1.5" stroke-linejoin="miter"/><path d="M302.3 732.5L307.8 738L302.3 743.5L296.8 738Z" fill="#fff" stroke="#000" stroke-width="1.5" stroke-linejoin="miter"/><path d="M530.9 732.3L536.4 737.8L530.9 743.3L525.4 737.8Z" fill="#fff" stroke="#000" stroke-width="1.5" stroke-linejoin="miter"/></g>
</svg>
</body></html>
